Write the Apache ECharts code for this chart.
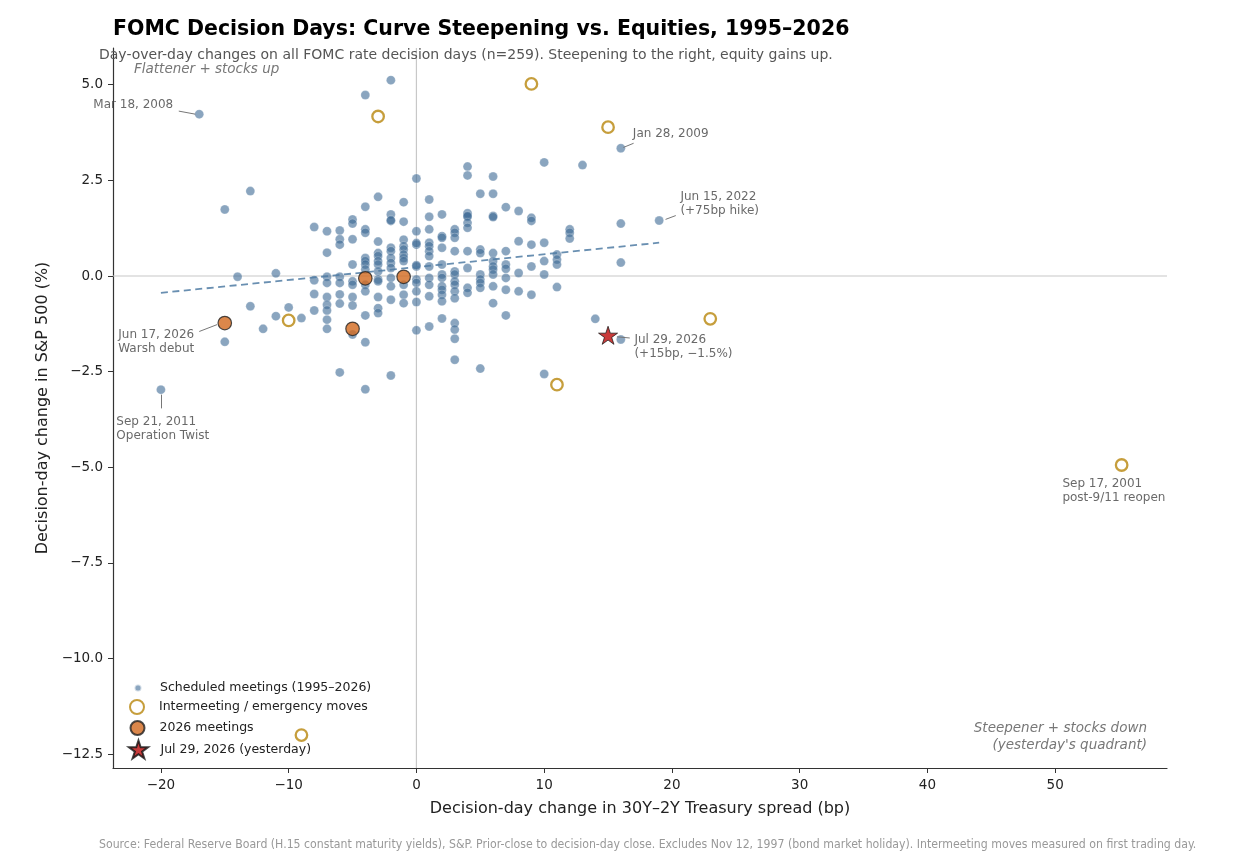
<!DOCTYPE html>
<html><head><meta charset="utf-8">
<script src="https://cdn.jsdelivr.net/npm/echarts@6/dist/echarts.min.js"></script>
<style>html,body{margin:0;padding:0;background:#fff}#c{width:1238px;height:866px}</style>
</head><body><div id="c"></div>
<script>
// ---------------- DATA ----------------
const scheduled = [
 [-20,-2.97],[-17,4.23],[-15,1.74],[-15,-1.72],[-14,-0.02],[-13,2.22],[-13,-0.79],[-12,-1.38],[-11,0.07],[-11,-1.05],[-10,-0.82],[-9,-1.1],
 [-8,1.28],[-8,-0.11],[-8,-0.47],[-8,-0.9],
 [-7,1.17],[-7,0.61],[-7,-0.02],[-7,-0.18],[-7,-0.55],[-7,-0.75],[-7,-0.9],[-7,-1.14],[-7,-1.38],
 [-6,1.19],[-6,0.96],[-6,0.82],[-6,-0.02],[-6,-0.18],[-6,-0.48],[-6,-0.72],[-6,-2.52],
 [-5,1.48],[-5,1.37],[-5,0.96],[-5,0.30],[-5,-0.14],[-5,-0.23],[-5,-0.55],[-5,-0.77],[-5,-1.53],
 [-4,4.73],[-4,1.81],[-4,1.22],[-4,1.13],[-4,0.47],[-4,0.39],[-4,0.30],[-4,0.17],[-4,-0.23],[-4,-0.40],[-4,-1.03],[-4,-1.73],[-4,-2.96],
 [-3,2.07],[-3,0.90],[-3,0.60],[-3,0.52],[-3,0.39],[-3,0.30],[-3,0.12],[-3,-0.09],[-3,-0.14],[-3,-0.55],[-3,-0.84],[-3,-0.97],
 [-2,5.12],[-2,1.61],[-2,1.44],[-2,1.46],[-2,0.74],[-2,0.65],[-2,0.47],[-2,0.34],[-2,0.21],[-2,-0.05],[-2,-0.27],[-2,-0.62],[-2,-2.6],
 [-1,1.93],[-1,1.42],[-1,0.95],[-1,0.78],[-1,0.69],[-1,0.56],[-1,0.47],[-1,0.39],[-1,-0.23],[-1,-0.49],[-1,-0.71],
 [0,2.55],[0,1.17],[0,0.82],[0,0.86],[0,0.25],[0,0.28],[0,-0.09],[0,-0.18],[0,-0.40],[0,-0.68],[0,-1.42],
 [1,2.0],[1,1.55],[1,1.22],[1,0.87],[1,0.78],[1,0.65],[1,0.52],[1,0.25],[1,-0.05],[1,-0.23],[1,-0.53],[1,-1.32],
 [2,1.61],[2,1.04],[2,1.0],[2,0.74],[2,0.30],[2,0.04],[2,-0.05],[2,-0.27],[2,-0.36],[2,-0.49],[2,-0.66],[2,-1.11],
 [3,1.22],[3,1.13],[3,1.0],[3,0.65],[3,0.12],[3,0.04],[3,-0.14],[3,-0.23],[3,-0.40],[3,-0.58],[3,-1.23],[3,-1.40],[3,-1.64],[3,-2.19],
 [4,2.86],[4,2.63],[4,1.64],[4,1.55],[4,1.57],[4,1.39],[4,1.26],[4,0.65],[4,0.21],[4,-0.31],[4,-0.44],
 [5,2.15],[5,0.69],[5,0.60],[5,0.04],[5,-0.09],[5,-0.18],[5,-0.31],[5,-2.42],
 [6,2.6],[6,2.15],[6,1.57],[6,1.54],[6,0.60],[6,0.39],[6,0.25],[6,0.17],[6,0.04],[6,-0.27],[6,-0.71],
 [7,1.80],[7,0.65],[7,0.30],[7,0.19],[7,-0.05],[7,-0.36],[7,-1.03],
 [8,1.70],[8,0.91],[8,0.08],[8,-0.40],
 [9,1.52],[9,1.44],[9,0.82],[9,0.25],[9,-0.49],
 [10,2.97],[10,0.87],[10,0.39],[10,0.04],[10,-2.56],
 [11,0.56],[11,0.43],[11,0.30],[11,-0.29],
 [12,1.22],[12,1.13],[12,0.98],
 [13,2.9],[14,-1.12],[16,3.34],[16,1.37],[16,0.35],[16,-1.66],[19,1.45]
];
const intermeeting = [[-3,4.17],[9,5.02],[15,3.89],[-10,-1.16],[23,-1.12],[11,-2.84],[55.2,-4.94],[-9,-12.0]];
const meetings2026 = [[-15,-1.23],[-5,-1.38],[-4,-0.06],[-1,-0.02]];
const yesterday = [[15,-1.55]];
const trendX = [-20, 19];
const trendY = [-0.44, 0.87];
const xTicks = [-20,-10,0,10,20,30,40,50];
const yTicks = [-12.5,-10,-7.5,-5,-2.5,0,2.5,5];
const annotationTexts = [
 'Mar 18, 2008','Jan 28, 2009','Jun 15, 2022\n(+75bp hike)','Jun 17, 2026\nWarsh debut',
 'Sep 21, 2011\nOperation Twist','Jul 29, 2026\n(+15bp, \u22121.5%)','Sep 17, 2001\npost-9/11 reopen'
];

// ---------------- LAYOUT ----------------
const X_MIN = -23.75, X_MAX = 58.75, Y_MIN = -12.86, Y_MAX = 5.96;
const FONT = 'DejaVu Sans';
const annotLayout = [
 {at:[-19.0, 4.47], align:'right', line:[[-18.6,4.31],[-17.3,4.23]]},
 {at:[16.98, 3.71], align:'left', line:[[16.2,3.36],[17.0,3.47]]},
 {at:[20.7, 1.88], align:'left', line:[[19.5,1.48],[20.3,1.58]]},
 {at:[-23.3,-1.74], align:'left', line:[[-17.0,-1.45],[-15.6,-1.27]]},
 {at:[-23.45,-4.0], align:'left', line:[[-20.0,-3.1],[-20.0,-3.46]]},
 {at:[17.1,-1.87], align:'left', line:[[15.7,-1.59],[16.7,-1.62]]},
 {at:[50.6,-5.63], align:'left', line:null}
];
const minus = s => String(s).replace('-', '\u2212');
const STAR = 'path://M50,0 L61.2,34.5 L97.6,34.5 L68.2,55.9 L79.4,90.5 L50,69.1 L20.6,90.5 L31.8,55.9 L2.4,34.5 L38.8,34.5 Z';

const annotData = annotationTexts.map((t,i)=>({
  value: annotLayout[i].at,
  label: {show:true, formatter:t, position:[0,0], align:annotLayout[i].align, verticalAlign:'middle'}
}));
const leaderLines = annotLayout.filter(a=>a.line).map(a=>[{coord:a.line[0]},{coord:a.line[1]}]);

const chart = echarts.init(document.getElementById('c'), null, {renderer:'canvas'});
const legendBase = {orient:'vertical', padding:0, itemWidth:34, selectedMode:false,
  textStyle:{fontFamily:FONT, fontSize:12.5, color:'#222'}};
const ICON_CX = 137;

chart.setOption({
  animation:false,
  backgroundColor:'#fff',
  textStyle:{fontFamily:FONT},
  title:[
    {text:'FOMC Decision Days: Curve Steepening vs. Equities, 1995\u20132026', left:113, top:19, padding:0,
     textStyle:{fontFamily:FONT, fontSize:20.5, fontWeight:'bold', color:'#000'}},
    {text:'Day-over-day changes on all FOMC rate decision days (n=259). Steepening to the right, equity gains up.',
     left:99, top:48, padding:0, textStyle:{fontFamily:FONT, fontSize:14, fontWeight:'normal', color:'#555'}}
  ],
  grid:{left:113, right:71, top:48, bottom:98, containLabel:false, outerBoundsMode:'none'},
  xAxis:{type:'value', min:X_MIN, max:X_MAX,
    name:'Decision-day change in 30Y\u20132Y Treasury spread (bp)', nameLocation:'middle', nameGap:33,
    nameTextStyle:{fontFamily:FONT, fontSize:16, color:'#222'},
    axisLine:{show:true, onZero:false, lineStyle:{color:'#333', width:1.2}},
    axisTick:{show:true, customValues:xTicks, length:5, lineStyle:{color:'#333', width:1}},
    axisLabel:{customValues:xTicks, margin:10, fontFamily:FONT, fontSize:13.5, color:'#222', formatter:v=>minus(v)},
    splitLine:{show:false}},
  yAxis:{type:'value', min:Y_MIN, max:Y_MAX,
    name:'Decision-day change in S&P 500 (%)', nameLocation:'middle', nameGap:51,
    nameTextStyle:{fontFamily:FONT, fontSize:16, color:'#222'},
    axisLine:{show:true, onZero:false, lineStyle:{color:'#333', width:1.2}},
    axisTick:{show:true, customValues:yTicks, length:5, lineStyle:{color:'#333', width:1}},
    axisLabel:{customValues:yTicks, margin:10, fontFamily:FONT, fontSize:13.5, color:'#222', formatter:v=>minus(v.toFixed(1))},
    splitLine:{show:false}},
  legend:[
    Object.assign({}, legendBase, {left:ICON_CX-3.5, top:681.5, itemHeight:7, data:[{name:'Scheduled meetings (1995\u20132026)'}]}),
    Object.assign({}, legendBase, {left:ICON_CX-8, top:699, itemHeight:14, data:[{name:'Intermeeting / emergency moves'}]}),
    Object.assign({}, legendBase, {left:ICON_CX-7.5, top:720, itemHeight:14, data:[{name:'2026 meetings'}]}),
    Object.assign({}, legendBase, {left:ICON_CX-9, top:739.5, itemHeight:18, data:[{name:'Jul 29, 2026 (yesterday)'}]})
  ],
  graphic:[
    {type:'text', left:134, top:62, style:{text:'Flattener + stocks up', font:'italic 13.5px "DejaVu Sans"', fill:'#777'}},
    {type:'text', right:1238-1147, top:721, style:{text:'Steepener + stocks down', font:'italic 13.5px "DejaVu Sans"', fill:'#777'}},
    {type:'text', right:1238-1147, top:738, style:{text:"(yesterday's quadrant)", font:'italic 13.5px "DejaVu Sans"', fill:'#777'}},
    {type:'text', left:99, top:838.5, style:{text:'Source: Federal Reserve Board (H.15 constant maturity yields), S&P. Prior-close to decision-day close. Excludes Nov 12, 1997 (bond market holiday). Intermeeting moves measured on first trading day.',
      font:'12.2px "DejaVu Sans Condensed", "DejaVu Sans"', fill:'#999'}}
  ],
  series:[
    {type:'line', name:'vref', data:[[0,Y_MIN],[0,Y_MAX]], symbol:'none', z:1, silent:true,
     lineStyle:{color:'#c8c8c8', width:1.2}},
    {type:'line', name:'href', data:[[X_MIN,0],[X_MAX,0]], symbol:'none', z:1, silent:true,
     lineStyle:{color:'#c8c8c8', width:1.2}},
    {type:'scatter', name:'Scheduled meetings (1995\u20132026)', data:scheduled, symbolSize:9, z:2,
     itemStyle:{color:'#3c6994', opacity:0.6, borderColor:'#fff', borderWidth:0.4}},
    {type:'line', name:'trend', data:trendX.map((x,i)=>[x,trendY[i]]), symbol:'none', z:3, silent:true,
     lineStyle:{color:'#4f7ba3', opacity:0.85, width:1.8, type:[7,4.5]}},
    {type:'scatter', name:'Intermeeting / emergency moves', data:intermeeting, symbolSize:11.5, z:4,
     itemStyle:{color:'rgba(255,255,255,0)', borderColor:'#b8860b', borderWidth:2.3}},
    {type:'scatter', name:'2026 meetings', data:meetings2026, symbolSize:13.5, z:5,
     itemStyle:{color:'#d2691e', borderColor:'#222', borderWidth:1.2}},
    {type:'scatter', name:'Jul 29, 2026 (yesterday)', data:yesterday, symbol:STAR, symbolKeepAspect:true, symbolSize:19, z:6,
     itemStyle:{color:'#bb0a0a', borderColor:'#111', borderWidth:0.9}},
    {type:'scatter', name:'annotations', data:annotData, symbolSize:1, z:7, silent:true,
     itemStyle:{color:'rgba(0,0,0,0)'},
     label:{show:true, fontFamily:FONT, fontSize:12, color:'#444', lineHeight:14},
     markLine:{silent:true, symbol:['none','none'], label:{show:false}, data:leaderLines,
       lineStyle:{color:'#777', width:1, type:'solid'}}}
  ]
});
</script></body></html>
